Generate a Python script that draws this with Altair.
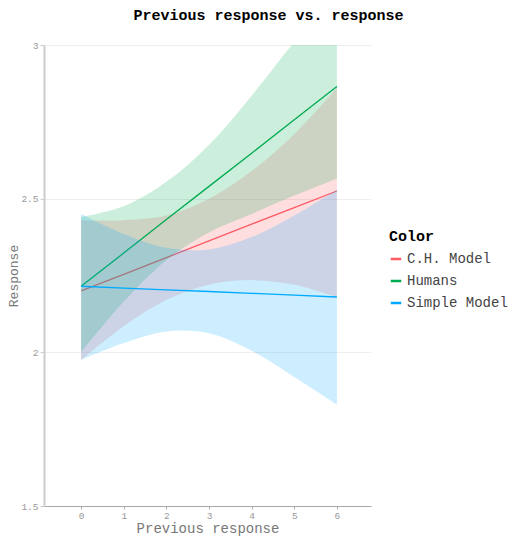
import altair as alt
import pandas as pd

xs = [0, 1, 2, 3, 4, 5, 6]
series = ["C.H. Model", "Humans", "Simple Model"]
colors = ["#FF5A64", "#00AA50", "#00AAFF"]

ch_mid = [2.200, 2.254, 2.308, 2.363, 2.417, 2.471, 2.525]
ch_lo = [1.975, 2.085, 2.170, 2.220, 2.235, 2.220, 2.180]
ch_hi = [2.430, 2.430, 2.445, 2.500, 2.590, 2.710, 2.860]

hu_mid = [2.215, 2.323, 2.432, 2.540, 2.648, 2.757, 2.865]
hu_lo = [2.000, 2.165, 2.300, 2.390, 2.450, 2.510, 2.565]
hu_hi = [2.440, 2.475, 2.555, 2.675, 2.835, 3.010, 3.170]

si_mid = [2.215, 2.209, 2.203, 2.198, 2.192, 2.186, 2.180]
si_lo = [1.975, 2.030, 2.068, 2.062, 2.005, 1.920, 1.830]
si_hi = [2.450, 2.385, 2.340, 2.335, 2.375, 2.445, 2.530]

rows = []
for name, mid, lo, hi in [
    (series[0], ch_mid, ch_lo, ch_hi),
    (series[1], hu_mid, hu_lo, hu_hi),
    (series[2], si_mid, si_lo, si_hi),
]:
    for x, m, l, h in zip(xs, mid, lo, hi):
        rows.append({"x": x, "Color": name, "y": m, "lo": l, "hi": h})
df = pd.DataFrame(rows)

FONT = "Liberation Mono"
color_scale = alt.Scale(domain=series, range=colors)
xscale = alt.Scale(domain=[-0.87, 6.8], nice=False, zero=False)
yscale = alt.Scale(domain=[1.5, 3], nice=False, zero=False)

xaxis = alt.Axis(values=xs, title="Previous response", grid=False,
                 labelFont=FONT, labelFontSize=9.5, labelColor="#999999",
                 titleFont=FONT, titleFontSize=14, titleFontWeight="normal",
                 titleColor="#777777", domainColor="#aaaaaa", tickColor="#aaaaaa",
                 tickSize=3, labelPadding=1, titlePadding=2)
yaxis = alt.Axis(values=[1.5, 2, 2.5, 3], format="~g", title="Response", grid=True,
                 gridColor="#eeeeee", labelFont=FONT, labelFontSize=9.5,
                 labelColor="#999999", titleFont=FONT, titleFontSize=13,
                 titleFontWeight="normal", titleColor="#777777",
                 domainColor="#cccccc", domainWidth=2, tickColor="#cccccc",
                 tickSize=4, labelPadding=2, titlePadding=0)
legend = alt.Legend(title="Color", orient="none", legendX=345, legendY=184,
                    symbolType="stroke", symbolSize=110, symbolStrokeWidth=2.5,
                    symbolOpacity=1,
                    titleFont=FONT, titleFontSize=15, titleFontWeight="bold",
                    titleColor="#000000", labelFont=FONT, labelFontSize=14,
                    labelColor="#444444", rowPadding=8, titlePadding=8)

X = alt.X("x:Q", scale=xscale, axis=xaxis)
C = alt.Color("Color:N", scale=color_scale, legend=legend)

layers = []
for name in series:
    base = alt.Chart(df).transform_filter(alt.datum.Color == name)
    area = base.mark_area(opacity=0.2, interpolate="catmull-rom", clip=True).encode(
        x=X,
        y=alt.Y("lo:Q", scale=yscale, axis=yaxis),
        y2="hi:Q",
        color=C,
    )
    line = base.mark_line(strokeWidth=1.3, clip=True).encode(
        x=X,
        y=alt.Y("y:Q", scale=yscale, axis=yaxis),
        color=C,
    )
    layers += [area, line]

chart = alt.layer(*layers).properties(
    width=327, height=461,
    title=alt.TitleParams("Previous response vs. response", font=FONT,
                          fontSize=15, fontWeight="bold", color="#000000",
                          anchor="middle", dx=61, offset=17),
    autosize=alt.AutoSizeParams(type="none"),
    padding={"left": 36, "top": 37, "right": 141, "bottom": 30},
).configure_view(stroke=None)

chart.save("out.html", embed_options={"renderer": "svg", "actions": False})
